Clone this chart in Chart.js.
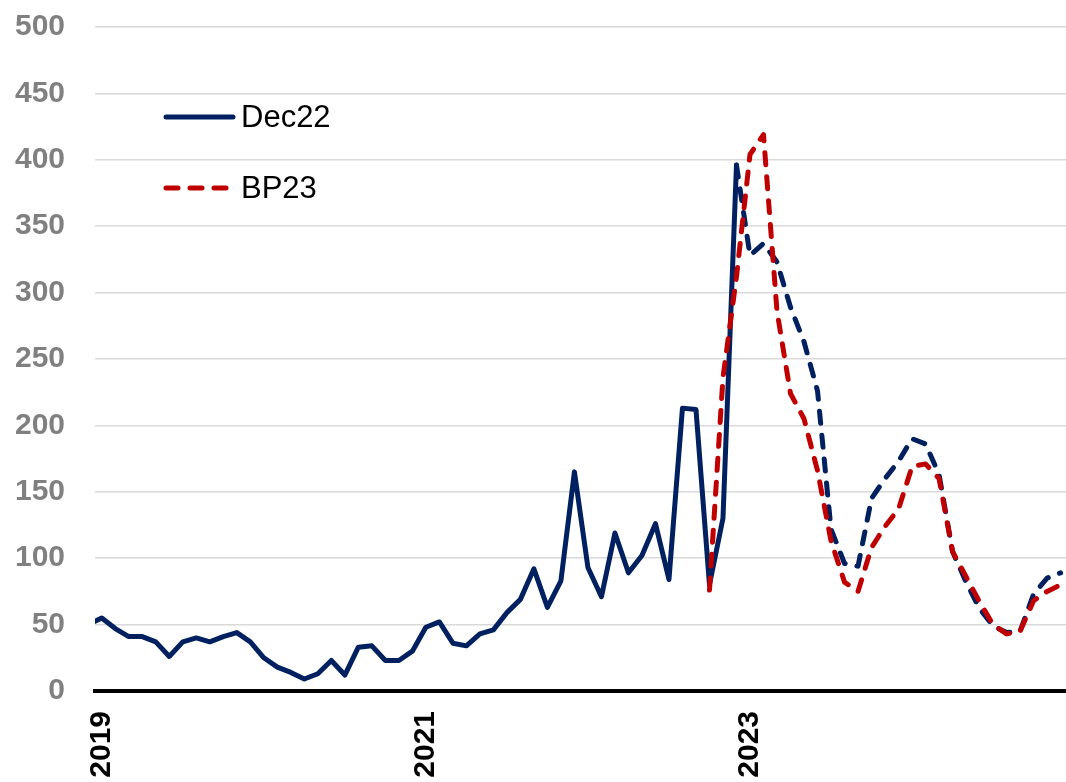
<!DOCTYPE html>
<html>
<head>
<meta charset="utf-8">
<script src="https://cdn.jsdelivr.net/npm/chart.js@4.4.0/dist/chart.umd.min.js"></script>
<style>
html,body{margin:0;padding:0;background:#fff;}
#wrap{width:1066px;height:782px;position:relative;}
</style>
</head>
<body>
<div id="wrap"><canvas id="c"></canvas></div>
<script>
// ---- data ----
const months = [
  "2018-12",
  "2019-01","2019-02","2019-03","2019-04","2019-05","2019-06","2019-07","2019-08","2019-09","2019-10","2019-11","2019-12",
  "2020-01","2020-02","2020-03","2020-04","2020-05","2020-06","2020-07","2020-08","2020-09","2020-10","2020-11","2020-12",
  "2021-01","2021-02","2021-03","2021-04","2021-05","2021-06","2021-07","2021-08","2021-09","2021-10","2021-11","2021-12",
  "2022-01","2022-02","2022-03","2022-04","2022-05","2022-06","2022-07","2022-08","2022-09","2022-10","2022-11","2022-12",
  "2023-01","2023-02","2023-03","2023-04","2023-05","2023-06","2023-07","2023-08","2023-09","2023-10","2023-11","2023-12",
  "2024-01","2024-02","2024-03","2024-04","2024-05","2024-06","2024-07","2024-08","2024-09","2024-10","2024-11","2024-12"
];
const dec22 = [
  50,
  55,47,41,41,37,26,37,40,37,41,44,37,
  25,18,14,9,13,23,12,33,34,23,23,30,
  48,52,36,34,43,46,59,69,92,63,83,165,
  93,71,119,89,102,126,84,213,212,80,130,396,
  328,337,323,289,263,226,122,96,94,145,160,173,
  190,186,163,105,82,62,49,44,45,73,85,89
];
const bp23 = [
  null,
  null,null,null,null,null,null,null,null,null,null,null,null,
  null,null,null,null,null,null,null,null,null,null,null,null,
  null,null,null,null,null,null,null,null,null,null,null,null,
  null,null,null,null,null,null,null,null,null,76,236,312,
  404,419,286,224,205,166,113,82,75,108,124,137,
  169,171,160,105,86,67,50,43,45,68,75,80
];
const forecastStart = "2022-12"; // Dec22 becomes dashed after this month
const seriesNames = ["Dec22", "BP23"];
const xTickYears = ["2019", "2021", "2023"];
const yTickValues = [0, 50, 100, 150, 200, 250, 300, 350, 400, 450, 500];

// ---- helpers ----
function monthIndex(s){ const p = s.split("-").map(Number); return (p[0]-2019)*12 + (p[1]-1); }
const toPoints = arr => months.map((m,i)=>({x: monthIndex(m), y: arr[i]}));
const fcIdx = monthIndex(forecastStart);

const BLUE = "#002060", RED = "#C00000";
const FONT = "'Liberation Sans', Arial, sans-serif";
const DASH = [12, 12];

const legendPlugin = {
  id: "legendInside",
  afterDraw(chart){
    const ctx = chart.ctx;
    const items = [
      {label: seriesNames[0], color: BLUE, dash: [], y: 117},
      {label: seriesNames[1], color: RED, dash: DASH, y: 188}
    ];
    ctx.save();
    items.forEach(it=>{
      ctx.beginPath();
      ctx.setLineDash(it.dash);
      ctx.lineWidth = 5;
      ctx.lineCap = "round";
      ctx.strokeStyle = it.color;
      ctx.moveTo(166, it.y);
      ctx.lineTo(it.dash.length ? 226 : 233, it.y);
      ctx.stroke();
      ctx.setLineDash([]);
      ctx.fillStyle = "#000";
      ctx.font = "31px " + FONT;
      ctx.textBaseline = "middle";
      ctx.textAlign = "left";
      ctx.fillText(it.label, 241, it.y + 1);
    });
    ctx.restore();
  }
};

new Chart(document.getElementById("c"), {
  type: "line",
  data: {
    datasets: [
      {
        label: seriesNames[0],
        data: toPoints(dec22),
        borderColor: BLUE,
        borderWidth: 5,
        pointRadius: 0,
        tension: 0,
        borderCapStyle: "round",
        borderJoinStyle: "round",
        clip: 0,
        order: 1,
        segment: {
          borderDash: ctx => ctx.p0.parsed.x >= fcIdx ? DASH : undefined
        }
      },
      {
        label: seriesNames[1],
        data: toPoints(bp23),
        borderColor: RED,
        borderWidth: 5,
        borderDash: DASH,
        pointRadius: 0,
        tension: 0,
        borderCapStyle: "round",
        borderJoinStyle: "round",
        clip: 0,
        order: 0,
        spanGaps: false
      }
    ]
  },
  options: {
    responsive: true,
    maintainAspectRatio: false,
    animation: false,
    layout: {padding: {top: 27, right: 0, left: 0, bottom: 0}},
    plugins: {legend: {display: false}, tooltip: {enabled: false}},
    scales: {
      x: {
        type: "linear",
        min: -0.5,
        max: 71.4,
        afterBuildTicks: s => { s.ticks = xTickYears.map(y => ({value: (Number(y)-2019)*12})); },
        afterFit: s => { s.height = 91; s.paddingLeft = 0; s.paddingRight = 0; },
        grid: {display: false, drawTicks: false},
        border: {display: true, color: "#000", width: 4},
        ticks: {
          autoSkip: false,
          minRotation: 90,
          maxRotation: 90,
          padding: 20,
          color: "#000",
          font: {family: FONT, size: 30, weight: "bold"},
          callback: v => String(2019 + Math.round(v/12))
        }
      },
      y: {
        min: 0,
        max: 500,
        afterBuildTicks: s => { s.ticks = yTickValues.map(v => ({value: v})); },
        afterFit: s => { s.width = 95; s.paddingTop = 0; s.paddingBottom = 0; },
        grid: {color: "#d9d9d9", lineWidth: 1.5, drawTicks: false},
        border: {display: false},
        ticks: {
          padding: 30,
          color: "#808080",
          font: {family: FONT, size: 30, weight: "bold"}
        }
      }
    }
  },
  plugins: [legendPlugin]
});
</script>
</body>
</html>
